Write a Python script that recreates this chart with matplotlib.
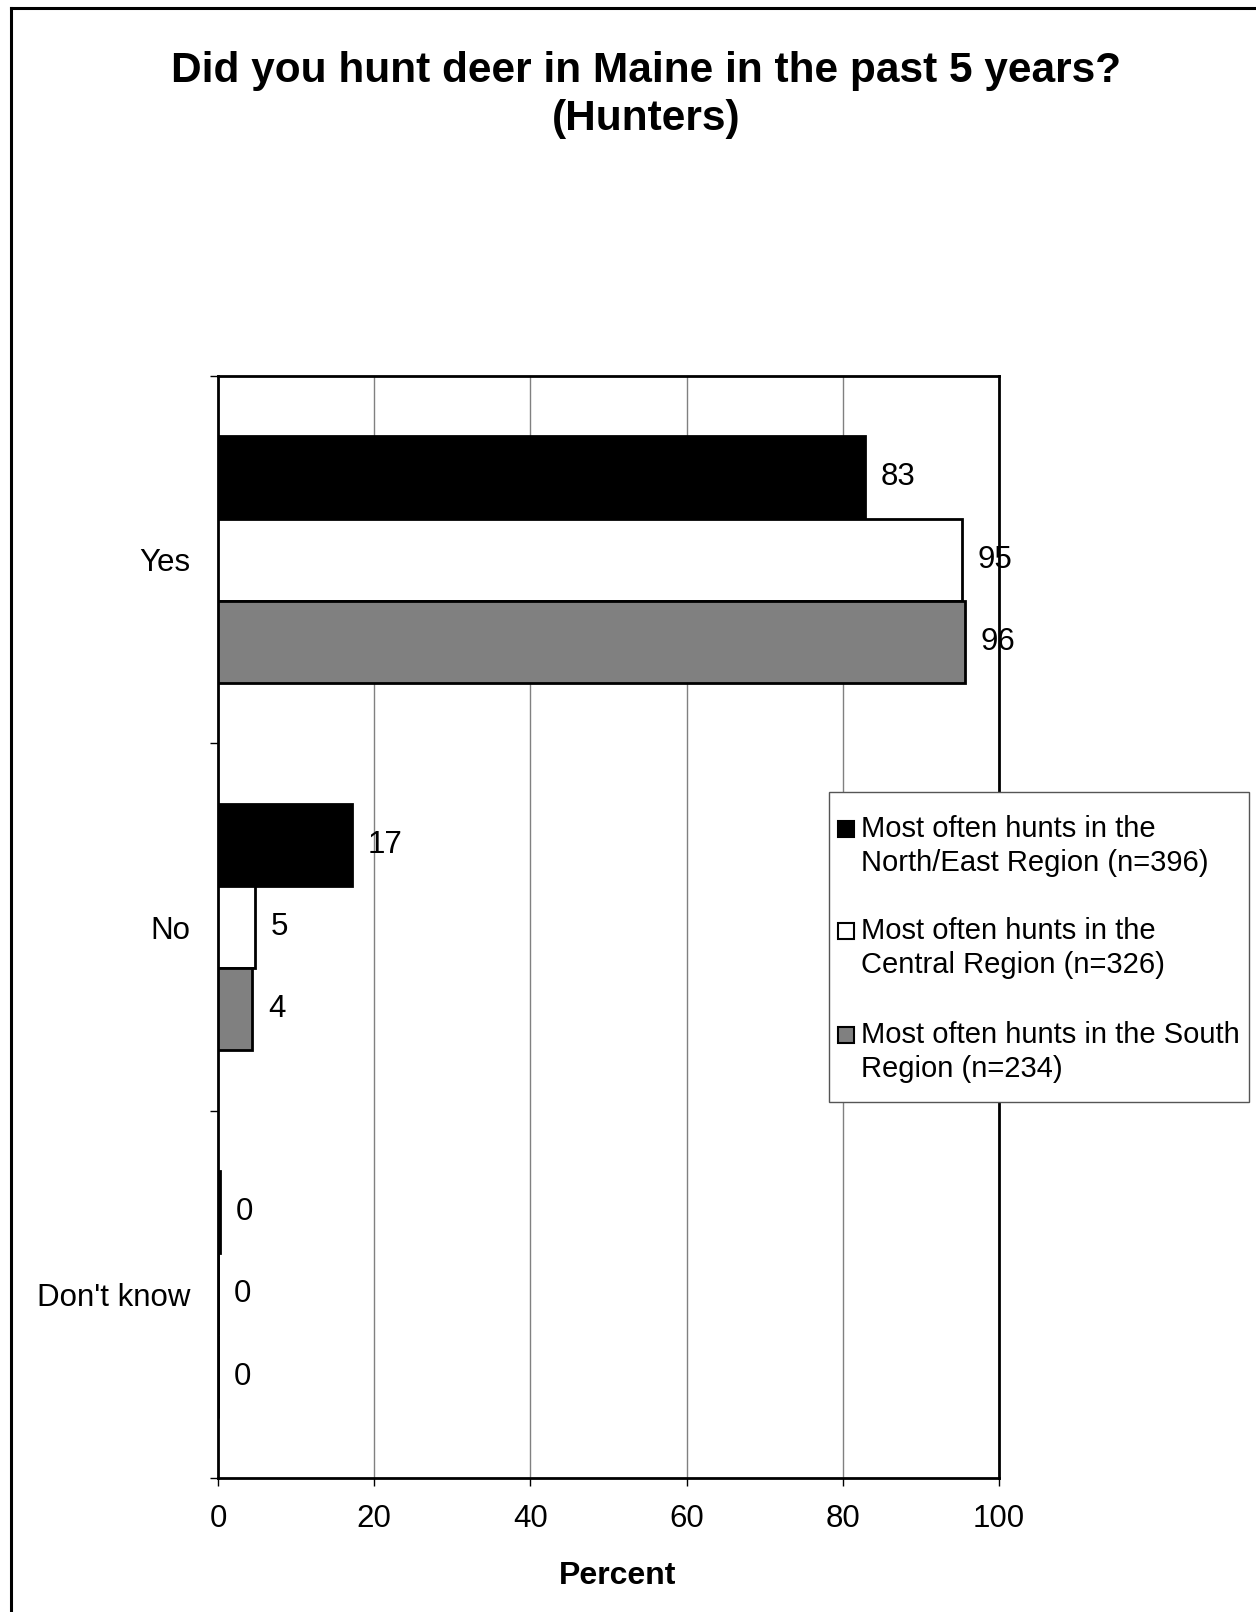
import matplotlib
matplotlib.use("Agg")
import matplotlib.pyplot as plt
import numpy as np
from matplotlib.patches import Rectangle
from matplotlib.lines import Line2D

plt.rcParams['font.family'] = ['Liberation Sans', 'DejaVu Sans']

categories = ["Yes", "No", "Don't know"]
series_names = [
    "Most often hunts in the\nNorth/East Region (n=396)",
    "Most often hunts in the\nCentral Region (n=326)",
    "Most often hunts in the South\nRegion (n=234)",
]
north_east = [82.8, 17.2, 0.3]
central = [95.3, 4.7, 0.0]
south = [95.6, 4.4, 0.0]
series_values = [north_east, central, south]
colors = ["#000000", "#ffffff", "#808080"]
xticks = [0, 20, 40, 60, 80, 100]

W, H = 1256, 1612
fig = plt.figure(figsize=(W / 100, H / 100), dpi=100)


def fx(x):
    return x / W


def fy(y):
    return 1 - y / H


# outer frame (top and left edges visible)
fig.lines.append(Line2D([fx(11), 1], [fy(8), fy(8)], transform=fig.transFigure,
                        color="black", linewidth=2.2))
fig.lines.append(Line2D([fx(11), fx(11)], [fy(8), 0], transform=fig.transFigure,
                        color="black", linewidth=2.2))

ax = fig.add_axes([fx(218), fy(1478), (999 - 218) / W, (1478 - 376) / H])

n = len(categories)
bar_h = 0.224
for i, (vals, col) in enumerate(zip(series_values, colors)):
    y = np.arange(n) + (i - 1) * bar_h
    ax.barh(y, vals, height=bar_h, color=col, edgecolor="black", linewidth=2, zorder=3)
    for yy, v in zip(y, vals):
        ax.text(v + 2.0, yy, f"{round(v):d}", va="center", ha="left", fontsize=22.5, zorder=4)

ax.set_ylim(n - 0.5, -0.5)
ax.set_xlim(0, 100)
ax.set_yticks(np.arange(n))
ax.set_yticklabels(categories, fontsize=22.5)
ax.set_yticks(np.arange(n + 1) - 0.5, minor=True)
ax.tick_params(axis="y", which="major", length=0, pad=20)
ax.tick_params(axis="y", which="minor", length=6, width=1)
ax.set_xticks(xticks)
ax.set_xticklabels([str(t) for t in xticks], fontsize=22.5)
ax.tick_params(axis="x", length=6, width=1, pad=13)
ax.grid(axis="x", color="#808080", linewidth=1, zorder=0)
for s in ax.spines.values():
    s.set_linewidth(2)
    s.set_color("black")

ax.set_xlabel("Percent", fontsize=23, fontweight="bold")
ax.xaxis.set_label_coords(0.511, -0.075)

fig.text(fx(646), fy(95), "Did you hunt deer in Maine in the past 5 years?\n(Hunters)",
         ha="center", va="center", fontsize=30.5, fontweight="bold", linespacing=1.25)

# legend (drawn as box + square keys + two-line labels)
fig.patches.append(Rectangle((fx(829), fy(1102)), (1249 - 829) / W, (1102 - 792) / H,
                             transform=fig.transFigure, facecolor="white",
                             edgecolor="#555555", linewidth=1, zorder=5))
baselines = [837, 939, 1043]
for name, col, base in zip(series_names, colors, baselines):
    fig.patches.append(Rectangle((fx(838), fy(base)), 16 / W, 16 / H,
                                 transform=fig.transFigure, facecolor=col,
                                 edgecolor="black", linewidth=1.5, zorder=6))
    l1, l2 = name.split("\n")
    fig.text(fx(861), fy(base), l1, ha="left", va="baseline", fontsize=21, zorder=7)
    fig.text(fx(861), fy(base + 34), l2, ha="left", va="baseline", fontsize=21, zorder=7)

fig.savefig("out.png", dpi=100)
